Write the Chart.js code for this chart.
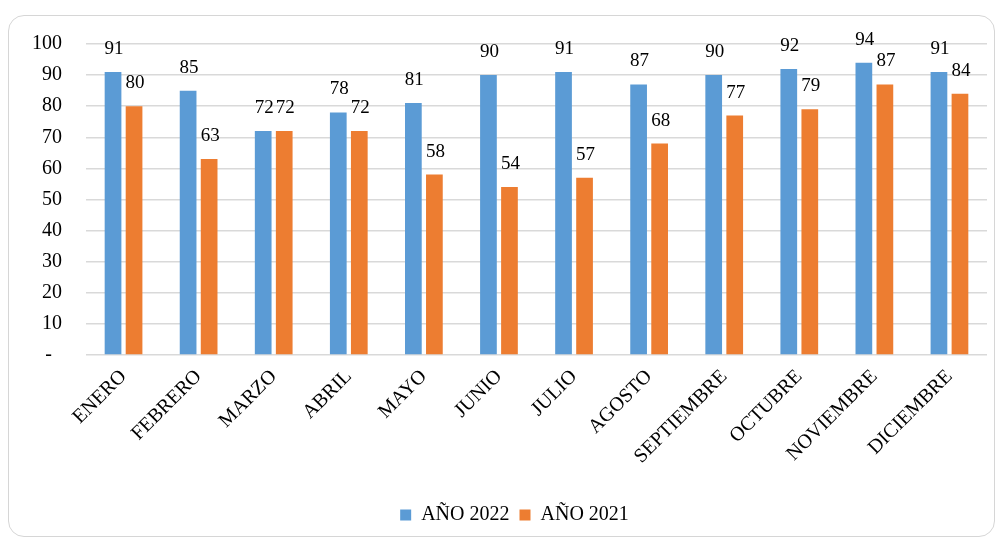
<!DOCTYPE html>
<html>
<head>
<meta charset="utf-8">
<script src="https://cdn.jsdelivr.net/npm/chart.js@4"></script>
<style>
  html, body { margin: 0; padding: 0; background: #fff; }
  body { width: 1001px; height: 541px; position: relative; overflow: hidden; }
  .frame {
    position: absolute; left: 8px; top: 15px; width: 985px; height: 520px;
    border: 1.5px solid #d6d6d6; border-radius: 16px;
  }
  #wrap { position: absolute; left: 0; top: 0; width: 1001px; height: 541px; }
</style>
</head>
<body>
<div class="frame"></div>
<div id="wrap"><canvas id="chart"></canvas></div>
<script>
  const months = ["ENERO", "FEBRERO", "MARZO", "ABRIL", "MAYO", "JUNIO",
    "JULIO", "AGOSTO", "SEPTIEMBRE", "OCTUBRE", "NOVIEMBRE", "DICIEMBRE"];
  const year2022 = [91, 85, 72, 78, 81, 90, 91, 87, 90, 92, 94, 91];
  const year2021 = [80, 63, 72, 72, 58, 54, 57, 68, 77, 79, 87, 84];
  const seriesNames = ["AÑO 2022", "AÑO 2021"];
  const yTicks = [0, 10, 20, 30, 40, 50, 60, 70, 80, 90, 100];

  const SERIF = "'Liberation Serif', 'Times New Roman', serif";

  // value labels printed above each bar
  const barValues = {
    id: "barValues",
    afterDatasetsDraw(chart) {
      const ctx = chart.ctx;
      ctx.save();
      ctx.font = "19px " + SERIF;
      ctx.fillStyle = "#000";
      ctx.textAlign = "center";
      ctx.textBaseline = "middle";
      chart.data.datasets.forEach((ds, i) => {
        chart.getDatasetMeta(i).data.forEach((bar, j) => {
          ctx.fillText(String(ds.data[j]), bar.x + 1, bar.y - 23);
        });
      });
      ctx.restore();
    },
  };

  // legend sits a bit right of the canvas centre, under the plot
  const legendShift = {
    id: "legendShift",
    afterLayout(chart) {
      const lg = chart.legend;
      lg.left += 17;
      lg.right += 17;
    },
  };

  new Chart(document.getElementById("chart"), {
    type: "bar",
    data: {
      labels: months,
      datasets: [
        { label: seriesNames[0], data: year2022, backgroundColor: "#5b9bd5" },
        { label: seriesNames[1], data: year2021, backgroundColor: "#ed7d31" },
      ],
    },
    options: {
      responsive: true,
      maintainAspectRatio: false,
      animation: false,
      categoryPercentage: 0.56,
      barPercentage: 0.795,
      layout: { padding: { left: 8, right: 14, top: 44, bottom: 6 } },
      scales: {
        x: {
          grid: { display: false },
          border: { display: false },
          ticks: {
            minRotation: 45,
            maxRotation: 45,
            padding: 2,
            color: "#000",
            font: { family: SERIF, size: 20 },
          },
          afterFit(scale) { scale.height = 140; },
        },
        y: {
          min: 0,
          max: 100,
          afterBuildTicks(scale) { scale.ticks = yTicks.map((v) => ({ value: v })); },
          grid: { color: "#d9d9d9", lineWidth: 1.5, drawTicks: false },
          border: { display: false },
          ticks: {
            padding: 24,
            color: "#000",
            font: { family: SERIF, size: 20 },
            // zero is shown as a dash, accounting style
            callback: (v) => (v === 0 ? "-  " : v),
          },
          afterFit(scale) { scale.width = 78; },
        },
      },
      plugins: {
        legend: {
          position: "bottom",
          labels: {
            boxWidth: 11,
            boxHeight: 11,
            padding: 10,
            color: "#000",
            font: { family: SERIF, size: 20 },
          },
        },
        tooltip: { enabled: false },
      },
    },
    plugins: [barValues, legendShift],
  });
</script>
</body>
</html>
